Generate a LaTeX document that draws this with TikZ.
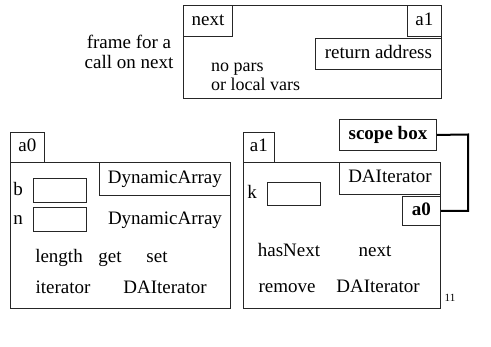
\documentclass[tikz,border=0pt]{standalone}
\usepackage{fontspec}
\setmainfont{Liberation Serif}
\usepackage{tikz}

\begin{document}
\begin{tikzpicture}[x=1pt, y=-1pt, font=\fontsize{19}{20}\selectfont,
	box/.style={draw=black!85, line width=0.9pt, rectangle, inner sep=0pt, anchor=north west, text height=13pt, text depth=4pt},
	lbl/.style={inner sep=0pt, text height=13pt, text depth=4pt}]
	\useasboundingbox (0,0) rectangle (491,347);
	% frame for the call on next
	\node[box, minimum width=258pt, minimum height=93pt] (frame) at (183,5) {};
	\node[box, minimum width=49pt, minimum height=31pt] (next) at (183,5) {next};
	\node[box, minimum width=34pt, minimum height=31pt] (a1) at (407,5) {a1};
	\node[box, minimum width=126pt, minimum height=31pt] (ret) at (315,38) {return address};
	\node[inner sep=0pt, align=center] (framelbl) at (129,52) {frame for a\\call on next};
	\node[inner sep=0pt, align=left, anchor=west, font=\fontsize{18}{19}\selectfont] (nopars) at (211,77) {no pars\\or local vars};
	% object a0
	\node[box, minimum width=220pt, minimum height=146pt] (obja0) at (10,162) {};
	\node[box, minimum width=34pt, minimum height=30pt] (taba0) at (10,132) {a0};
	\node[box, minimum width=131pt, minimum height=33pt] (da) at (99,162) {DynamicArray};
		\node[lbl] (b) at (18,191) {b};
		\node[box, minimum width=53pt, minimum height=24pt] (bbox) at (33,178) {};
		\node[lbl] (n) at (18,220) {n};
		\node[box, minimum width=53pt, minimum height=24pt] (nbox) at (33,207) {};
		\node[lbl] (ntype) at (165,220) {DynamicArray};
			\node[lbl] (length) at (59,258) {length};
			\node[lbl] (get) at (110,258) {get};
			\node[lbl] (set) at (157,258) {set};
			\node[lbl] (iterator) at (63,289) {iterator};
			\node[lbl] (dait) at (165,289) {DAIterator};
	% object a1
	\node[box, minimum width=197pt, minimum height=146pt] (obja1) at (243,162) {};
	\node[box, minimum width=31pt, minimum height=30pt] (taba1) at (243,132) {a1};
	\node[box, minimum width=101pt, minimum height=32pt] (daitbox) at (339,162) {DAIterator};
	\node[box, minimum width=38pt, minimum height=29pt, font=\fontsize{19}{20}\selectfont\bfseries] (a0) at (402,196) {a0};
		\node[lbl] (k) at (252,194) {k};
		\node[box, minimum width=53pt, minimum height=23pt] (kbox) at (267,182) {};
			\node[lbl] (hasnext) at (289,252) {hasNext};
			\node[lbl] (nextm) at (375,252) {next};
			\node[lbl] (remove) at (287,288) {remove};
			\node[lbl] (dait2) at (378,288) {DAIterator};
	% scope box
	\node[box, minimum width=97pt, minimum height=31pt, font=\fontsize{19}{20}\selectfont\bfseries] (scope) at (339,119) {scope box};
	\coordinate (bend) at (468,134.5);
	\draw[line width=2pt] (scope.east) -- (bend) |- (a0.east);
	\node[lbl, font=\fontsize{11}{12}\selectfont, text height=8pt, text depth=2pt] (page) at (450,299) {11};
\end{tikzpicture}
\end{document}
